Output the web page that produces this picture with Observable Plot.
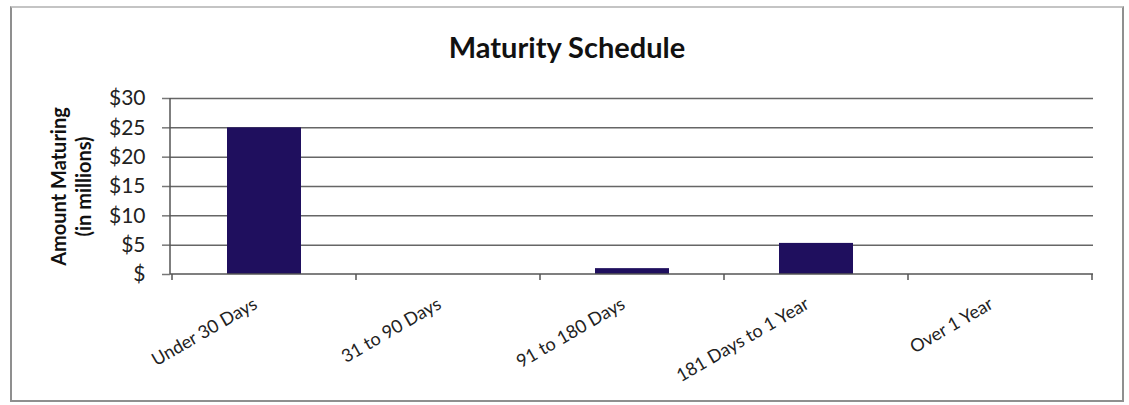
<!DOCTYPE html>
<html><head><meta charset="utf-8">
<script src="https://cdn.jsdelivr.net/npm/d3@7"></script>
<script src="https://cdn.jsdelivr.net/npm/@observablehq/plot@0.6"></script>
<style>
body{margin:0;background:#fff;}
#wrap{position:relative;width:1129px;height:405px;}
#border{position:absolute;left:10px;top:6px;width:1114px;height:396px;border:2px solid #8f8f8f;border-top-color:#c4c4c4;box-sizing:border-box;pointer-events:none;}
#wrap svg{position:absolute;left:0;top:0;}
</style></head><body><div id="wrap"><div id="border"></div></div>
<script>
const title = "Maturity Schedule";
const yLabel = "Amount Maturing\n(in millions)";
const categories = ["Under 30 Days", "31 to 90 Days", "91 to 180 Days", "181 Days to 1 Year", "Over 1 Year"];
const amounts = [25, 0, 1, 5.3, 0];
const yTicks = [0, 5, 10, 15, 20, 25, 30];
const data = categories.map((c, i) => ({category: c, amount: amounts[i]}));

const axisLines = (index, scales, values, dimensions) => {
  const x = scales.x, y = scales.y;
  const bw = x.bandwidth(), step = x.step();
  const y0 = y(0);
  const g = d3.create("svg:g").attr("stroke", "#555").attr("stroke-width", 1.5);
  const xs = [x(categories[0]) - (step - bw) / 2, ...categories.map(c => x(c) + bw + (step - bw) / 2)];
  for (const px of xs) g.append("line").attr("x1", px).attr("x2", px).attr("y1", y0).attr("y2", y0 + 6);
  const xl = dimensions.marginLeft;
  g.append("line").attr("x1", xl).attr("x2", xl).attr("y1", y(yTicks[yTicks.length - 1])).attr("y2", y0);
  g.append("line").attr("x1", xl).attr("x2", dimensions.width - dimensions.marginRight).attr("y1", y0).attr("y2", y0);
  return g.node();
};

const chart = Plot.plot({
  width: 1129,
  height: 405,
  marginLeft: 170,
  marginRight: 36,
  marginTop: 98,
  marginBottom: 131,
  style: {fontFamily: "Lato", fontSize: "17px", color: "#222", background: "transparent"},
  x: {domain: categories, paddingInner: 0.6, paddingOuter: 0.3, label: null},
  y: {domain: [0, 30], label: null},
  marks: [
    Plot.gridY(yTicks.slice(1), {stroke: "#666", strokeOpacity: 1, strokeWidth: 1.5}),
    Plot.axisY(yTicks, {tickFormat: d => d === 0 ? "$" : "$" + d, tickSize: 8, tickPadding: 17, fontSize: 21, stroke: "#777", strokeWidth: 1.5, label: null}),
    Plot.axisX({tickSize: 0, tickRotate: -30, tickPadding: 28, dx: -9, fontSize: 18, label: null}),
    Plot.barY(data, {x: "category", y: "amount", fill: "#1f0f5e"}),
    axisLines,
    Plot.text([title], {frameAnchor: "top", dx: -65, dy: -61, fontSize: 29, fontWeight: "bold", fill: "#111"}),
    Plot.text([yLabel], {frameAnchor: "left", textAnchor: "middle", dx: -100, rotate: -90, fontSize: 20, fontWeight: "bold", lineHeight: 1.25, fill: "#111"})
  ]
});
document.getElementById("wrap").appendChild(chart);
</script></body></html>
